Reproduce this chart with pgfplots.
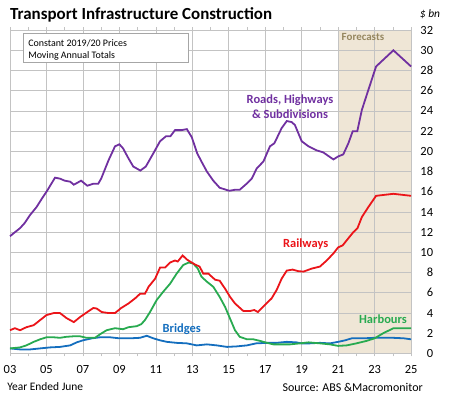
\documentclass[border=0pt]{standalone}
\usepackage{pgfplots}
\pgfplotsset{compat=1.18}
\usepackage{fontspec}
\setmainfont{Carlito}
\definecolor{cPurple}{RGB}{112,48,160}
\definecolor{cRed}{RGB}{235,20,25}
\definecolor{cGreen}{RGB}{40,170,80}
\definecolor{cBlue}{RGB}{20,110,190}
\definecolor{cFore}{RGB}{239,230,214}
\definecolor{cForeTxt}{RGB}{150,135,95}
\definecolor{cGrid}{RGB}{195,195,195}
\begin{document}
\begin{tikzpicture}
\pgfplotsset{set layers}
\begin{axis}[
  scale only axis, width=401bp, height=323.3bp,
  xmin=2003, xmax=2025, ymin=0, ymax=32,
  clip=false,
  axis line style={cGrid},
  xtick={2003,2005,...,2025},
  xticklabels={03,05,07,09,11,13,15,17,19,21,23,25},
  minor xtick={2004,2006,...,2024},
  ytick={0,2,...,32},
  yticklabel pos=right,
  ymajorgrids, xmajorgrids,
  grid style={cGrid, line width=0.7pt},
  tick align=outside,
  major tick length=3bp, minor tick length=3bp,
  xtick style={cGrid, line width=0.7pt},
  ytick style={draw=none},
  every x tick label/.append style={font=\fontsize{12.5}{14}\selectfont, yshift=-5bp},
  every y tick label/.append style={font=\fontsize{12.5}{14}\selectfont, anchor=east, xshift=22.5bp},
  /pgf/number format/assume math mode=true,
  legend style={draw=none},
]
\addplot[fill=cFore, draw=none, on layer=axis background] coordinates {(2021,0) (2021,32) (2025,32) (2025,0)} -- cycle;

\addplot[cBlue, line width=1.8pt] coordinates {
(2003.0,0.5)(2003.55,0.4)(2004.1,0.4)(2004.65,0.5)(2005.2,0.6)(2005.74,0.65)(2006.3,0.8)(2006.66,1.1)(2007.0,1.3)(2007.5,1.5)(2007.94,1.6)(2008.5,1.6)(2009.0,1.5)(2009.6,1.5)(2010.13,1.55)(2010.5,1.75)(2010.86,1.5)(2011.23,1.3)(2011.6,1.15)(2012.14,1.05)(2012.7,1.0)(2013.24,0.8)(2013.8,0.9)(2014.34,0.8)(2014.9,0.65)(2015.43,0.7)(2016.0,0.8)(2016.5,1.0)(2017.1,1.05)(2017.6,1.05)(2018.18,1.15)(2018.7,1.1)(2019.0,1.0)(2019.45,1.0)(2020.0,1.05)(2020.55,1.0)(2021.0,1.15)(2021.38,1.3)(2021.75,1.5)(2022.4,1.5)(2023.0,1.55)(2024.0,1.55)(2024.6,1.5)(2025.0,1.4)};

\addplot[cGreen, line width=1.8pt] coordinates {
(2003.0,0.5)(2003.55,0.6)(2003.9,0.8)(2004.3,1.15)(2004.65,1.4)(2005.0,1.6)(2005.4,1.6)(2005.74,1.55)(2006.1,1.65)(2006.5,1.7)(2006.84,1.7)(2007.2,1.55)(2007.66,1.55)(2007.94,1.9)(2008.3,2.3)(2008.76,2.5)(2009.2,2.4)(2009.5,2.6)(2009.95,2.7)(2010.2,2.9)(2010.4,3.3)(2010.68,4.1)(2011.05,5.3)(2011.4,6.1)(2011.78,6.9)(2012.14,7.9)(2012.5,8.75)(2012.8,9.0)(2013.05,8.9)(2013.3,8.4)(2013.5,7.6)(2013.8,7.1)(2014.15,6.6)(2014.5,5.6)(2014.8,4.6)(2015.07,3.45)(2015.34,2.3)(2015.6,1.65)(2016.0,1.4)(2016.35,1.4)(2016.7,1.25)(2017.1,1.05)(2017.45,0.9)(2018.0,0.9)(2018.36,0.9)(2018.9,1.0)(2019.37,1.1)(2020.0,1.0)(2020.55,0.9)(2021.0,0.75)(2021.47,0.8)(2022.0,1.0)(2022.57,1.25)(2023.0,1.5)(2023.47,2.0)(2024.03,2.5)(2025.0,2.5)};

\addplot[cRed, line width=1.8pt] coordinates {
(2003.0,2.3)(2003.27,2.5)(2003.55,2.3)(2003.9,2.6)(2004.3,2.8)(2004.65,3.3)(2005.0,3.8)(2005.4,4.0)(2005.74,4.0)(2006.1,3.5)(2006.5,3.1)(2006.84,3.6)(2007.24,4.1)(2007.57,4.5)(2007.75,4.45)(2008.03,4.1)(2008.4,4.0)(2008.76,4.0)(2009.1,4.5)(2009.5,4.95)(2009.86,5.45)(2010.13,5.9)(2010.4,5.9)(2010.6,6.6)(2010.96,7.4)(2011.23,8.5)(2011.5,8.5)(2011.78,9.0)(2012.05,9.2)(2012.2,9.1)(2012.47,9.7)(2012.7,9.3)(2012.87,9.1)(2013.15,8.8)(2013.4,8.6)(2013.6,7.9)(2013.88,7.9)(2014.25,7.3)(2014.5,7.2)(2014.8,6.4)(2015.07,5.6)(2015.34,4.95)(2015.8,4.2)(2016.16,4.2)(2016.4,4.3)(2016.6,4.1)(2016.98,4.8)(2017.35,5.45)(2017.63,6.3)(2017.9,7.4)(2018.18,8.2)(2018.5,8.3)(2018.8,8.15)(2019.1,8.1)(2019.55,8.4)(2020.0,8.6)(2020.37,9.2)(2020.74,9.9)(2021.0,10.5)(2021.25,10.7)(2021.56,11.4)(2021.83,12.0)(2022.06,12.4)(2022.3,13.5)(2022.66,14.5)(2023.08,15.6)(2024.03,15.8)(2025.0,15.6)};

\addplot[cPurple, line width=1.8pt] coordinates {
(2003.0,11.6)(2003.27,12.0)(2003.55,12.4)(2003.8,12.9)(2004.1,13.7)(2004.46,14.5)(2004.74,15.3)(2005.0,16.0)(2005.47,17.4)(2005.74,17.3)(2006.0,17.1)(2006.3,17.0)(2006.5,16.7)(2006.9,17.1)(2007.24,16.6)(2007.57,16.8)(2007.84,16.8)(2008.0,17.3)(2008.4,19.1)(2008.76,20.5)(2009.0,20.7)(2009.2,20.3)(2009.5,19.3)(2009.76,18.5)(2010.15,18.1)(2010.45,18.5)(2010.86,19.8)(2011.23,21.0)(2011.56,21.5)(2011.8,21.5)(2012.05,22.1)(2012.4,22.1)(2012.7,22.2)(2012.97,21.4)(2013.27,19.8)(2013.5,19.0)(2013.8,18.0)(2014.15,17.1)(2014.5,16.4)(2015.03,16.1)(2015.34,16.2)(2015.6,16.2)(2015.98,16.8)(2016.26,17.3)(2016.53,18.3)(2016.9,19.0)(2017.26,20.5)(2017.5,20.8)(2017.9,22.3)(2018.18,23.0)(2018.45,22.9)(2018.63,22.6)(2019.0,21.0)(2019.37,20.5)(2019.82,20.1)(2020.18,19.9)(2020.74,19.2)(2021.0,19.5)(2021.28,19.7)(2021.56,20.8)(2021.8,22.0)(2022.05,22.0)(2022.3,24.1)(2022.66,26.1)(2023.08,28.4)(2024.03,30.0)(2025.0,28.4)};

% annotations
\node[anchor=west, font=\fontsize{17}{20}\selectfont\bfseries, inner sep=0pt] at (axis cs:2003,33.5) {Transport Infrastructure Construction};
\node[font=\fontsize{11.5}{13}\selectfont\itshape, inner sep=0pt] at (axis cs:2026.04,33.6) {\$ bn};
\node[font=\fontsize{11}{13}\selectfont\bfseries, text=cForeTxt, inner sep=0pt] at (axis cs:2022.36,31.3) {Forecasts};
\draw[draw=gray!70, fill=white, line width=0.6pt] (axis cs:2003.71,31.7) rectangle (axis cs:2012.76,28.8);
\node[anchor=west, font=\fontsize{10}{12}\selectfont, inner sep=0pt] at (axis cs:2003.99,30.7) {Constant 2019/20 Prices};
\node[anchor=west, font=\fontsize{10}{12}\selectfont, inner sep=0pt] at (axis cs:2003.99,29.4) {Moving Annual Totals};
\node[font=\fontsize{12.5}{14}\selectfont\bfseries, text=cPurple, inner sep=0pt] at (axis cs:2018.36,25.1) {Roads, Highways};
\node[font=\fontsize{12.5}{14}\selectfont\bfseries, text=cPurple, inner sep=0pt] at (axis cs:2018.36,23.7) {\& Subdivisions};
\node[font=\fontsize{12.5}{14}\selectfont\bfseries, text=cRed, inner sep=0pt] at (axis cs:2019.22,10.8) {Railways};
\node[font=\fontsize{12.5}{14}\selectfont\bfseries, text=cGreen, inner sep=0pt] at (axis cs:2023.46,3.4) {Harbours};
\node[font=\fontsize{12.5}{14}\selectfont\bfseries, text=cBlue, inner sep=0pt] at (axis cs:2012.42,2.4) {Bridges};
\node[anchor=west, font=\fontsize{11.5}{13}\selectfont, inner sep=0pt] at (axis cs:2002.84,-3.25) {Year Ended June};
\node[anchor=east, font=\fontsize{12}{14}\selectfont, inner sep=0pt] at (axis cs:2025.65,-3.4) {Source: ABS \&Macromonitor};
\path (axis cs:2002.451,-4.525) rectangle (axis cs:2027.19,34.98);
\end{axis}
\end{tikzpicture}
\end{document}
